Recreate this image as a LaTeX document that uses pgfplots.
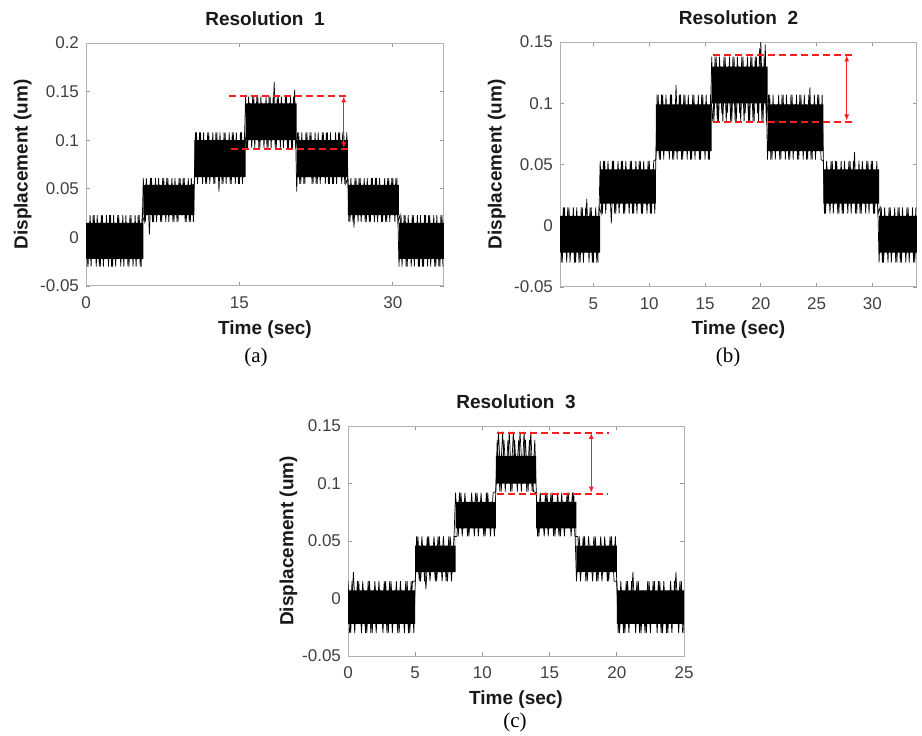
\documentclass[border=0pt]{standalone}
\usepackage{fontspec}
\setmainfont{Liberation Sans}
\newfontfamily\seriffont{Liberation Serif}
\usepackage{pgfplots}
\pgfplotsset{compat=1.18}
\usetikzlibrary{arrows.meta}
\definecolor{annred}{RGB}{250,30,30}
\pgfplotsset{
  matstyle/.style={
    scale only axis,
    anchor=south west,
    axis line style={draw=black!30, line width=0.5pt},
    tick style={draw=black!40, line width=0.4pt},
    tick align=inside,
    major tick length=2pt,
    /pgf/number format/assume math mode=true,
    ticklabel style={font=\fontsize{8.5}{9.5}\selectfont, text=black!75},
    xticklabel style={yshift=-2pt},
    label style={font=\bfseries\fontsize{9.5}{11}\selectfont, text=black!90},
    title style={font=\bfseries\fontsize{9.5}{11}\selectfont, text=black!90, at={(axis description cs:0.5,1)}, anchor=base, yshift=3pt},
    ylabel style={at={(axis description cs:-0.177,0.5)}, anchor=center},
    xlabel style={at={(axis description cs:0.5,0)}, anchor=base, yshift=-24pt},
    xlabel={Time (sec)}, ylabel={Displacement (um)},
  },
  sig/.style={black, line width=0.35pt},
  core/.style={fill=black, draw=none},
  annline/.style={draw=annred, line width=1pt, dash pattern=on 3.5pt off 2pt},
  annarr/.style={draw=annred, line width=0.5pt, >={Latex[length=3pt,width=2.5pt]}, <->},
}
\begin{document}
\begin{tikzpicture}
\path[use as bounding box] (0,0) rectangle (461pt,367.5pt);

% ---------------- (a) ----------------
\begin{axis}[matstyle, at={(43pt,224.5pt)}, width=179pt, height=121.5pt,
  xmin=0, xmax=35, ymin=-0.05, ymax=0.2,
  xtick={0,15,30},
  ytick={-0.05,0,0.05,0.1,0.15,0.2},
  yticklabels={-0.05,0,0.05,0.1,0.15,0.2},
  title={Resolution\ \ 1}]
\addplot[core] coordinates {(0,0.015)(5.6,0.015)(5.6,0.054)(10.6,0.054)(10.6,0.100)(15.6,0.100)(15.6,0.138)(20.6,0.138)(20.6,0.100)(25.6,0.100)(25.6,0.054)(30.6,0.054)(30.6,0.015)(35,0.015)
 (35,-0.022)(30.6,-0.022)(30.6,0.023)(25.6,0.023)(25.6,0.062)(20.6,0.062)(20.6,0.100)(15.6,0.100)(15.6,0.062)(10.6,0.062)(10.6,0.023)(5.6,0.023)(5.6,-0.022)(0,-0.022)} -- cycle;
\addplot[sig] coordinates {
(0,0.015)(0.2,-0.030)(0.4,0.023)(0.6,-0.022)(0.8,0.023)(1.0,-0.030)(1.2,0.015)(1.4,-0.030)(1.6,0.023)(1.8,-0.022)(2.0,0.023)(2.2,-0.030)(2.4,0.023)(2.6,-0.030)(2.8,0.015)(3.0,-0.022)(3.2,0.023)(3.4,-0.030)(3.6,0.023)(3.8,-0.022)(4.0,0.015)(4.2,-0.030)(4.4,0.023)(4.6,-0.030)(4.8,0.023)(5.0,-0.022)(5.2,0.023)(5.4,-0.030)
(5.6,0.061)(5.8,0.016)(6.0,0.054)(6.2,0.003)(6.4,0.061)(6.6,0.016)(6.8,0.061)(7.0,0.023)(7.2,0.054)(7.4,0.016)(7.6,0.061)(7.8,0.016)(8.0,0.061)(8.2,0.023)(8.4,0.061)(8.6,0.016)(8.8,0.054)(9.0,0.016)(9.2,0.061)(9.4,0.023)(9.6,0.061)(9.8,0.016)(10.0,0.061)(10.2,0.016)(10.4,0.054)
(10.6,0.055)(10.8,0.108)(11.0,0.062)(11.2,0.108)(11.4,0.055)(11.6,0.100)(11.8,0.055)(12.0,0.108)(12.2,0.062)(12.4,0.108)(12.6,0.055)(12.8,0.108)(13.0,0.047)(13.2,0.100)(13.4,0.055)(13.6,0.108)(13.8,0.062)(14.0,0.108)(14.2,0.055)(14.4,0.108)(14.6,0.055)(14.8,0.100)(15.0,0.055)(15.2,0.108)(15.4,0.062)
(15.6,0.145)(15.8,0.092)(16.0,0.138)(16.2,0.092)(16.4,0.145)(16.6,0.100)(16.8,0.145)(17.0,0.092)(17.2,0.138)(17.4,0.092)(17.6,0.145)(17.8,0.092)(18.0,0.145)(18.2,0.100)(18.4,0.160)(18.6,0.092)(18.8,0.145)(19.0,0.092)(19.2,0.138)(19.4,0.100)(19.6,0.145)(19.8,0.092)(20.0,0.145)(20.2,0.092)(20.4,0.152)
(20.6,0.047)(20.8,0.108)(21.0,0.055)(21.2,0.100)(21.4,0.055)(21.6,0.108)(21.8,0.062)(22.0,0.108)(22.2,0.055)(22.4,0.108)(22.6,0.055)(22.8,0.100)(23.0,0.062)(23.2,0.108)(23.4,0.055)(23.6,0.108)(23.8,0.055)(24.0,0.100)(24.2,0.055)(24.4,0.108)(24.6,0.062)(24.8,0.108)(25.0,0.055)(25.2,0.108)(25.4,0.055)
(25.6,0.061)(25.8,0.016)(26.0,0.054)(26.2,0.010)(26.4,0.061)(26.6,0.016)(26.8,0.061)(27.0,0.023)(27.2,0.061)(27.4,0.016)(27.6,0.054)(27.8,0.016)(28.0,0.061)(28.2,0.016)(28.4,0.061)(28.6,0.023)(28.8,0.054)(29.0,0.016)(29.2,0.061)(29.4,0.016)(29.6,0.061)(29.8,0.023)(30.0,0.061)(30.2,0.016)(30.4,0.061)
(30.6,-0.030)(30.8,0.023)(31.0,-0.022)(31.2,0.023)(31.4,-0.030)(31.6,0.015)(31.8,-0.030)(32.0,0.023)(32.2,-0.022)(32.4,0.023)(32.6,-0.030)(32.8,0.015)(33.0,-0.030)(33.2,0.023)(33.4,-0.030)(33.6,0.023)(33.8,-0.022)(34.0,0.023)(34.2,-0.030)(34.4,0.015)(34.6,-0.030)(34.8,0.023)(35.0,-0.022)};
\addplot[sig] coordinates {
(0.1,-0.030)(0.3,0.015)(0.5,-0.030)(0.7,0.023)(0.9,-0.022)(1.1,0.023)(1.3,-0.030)(1.5,0.023)(1.7,-0.030)(1.9,0.015)(2.1,-0.022)(2.3,0.023)(2.5,-0.030)(2.7,0.023)(2.9,-0.030)(3.1,0.023)(3.3,-0.022)(3.5,0.015)(3.7,-0.030)(3.9,0.023)(4.1,-0.030)(4.3,0.023)(4.5,-0.022)(4.7,0.015)(4.9,-0.030)(5.1,0.023)(5.3,-0.030)(5.5,0.023)
(5.7,0.016)(5.9,0.061)(6.1,0.023)(6.3,0.061)(6.5,0.016)(6.7,0.054)(6.9,0.016)(7.1,0.061)(7.3,0.016)(7.5,0.061)(7.7,0.023)(7.9,0.061)(8.1,0.016)(8.3,0.054)(8.5,0.016)(8.7,0.061)(8.9,0.016)(9.1,0.061)(9.3,0.023)(9.5,0.061)(9.7,0.016)(9.9,0.054)(10.1,0.016)(10.3,0.061)(10.5,0.016)
(10.7,0.108)(10.9,0.055)(11.1,0.108)(11.3,0.062)(11.5,0.108)(11.7,0.055)(11.9,0.108)(12.1,0.055)(12.3,0.100)(12.5,0.055)(12.7,0.108)(12.9,0.062)(13.1,0.108)(13.3,0.055)(13.5,0.108)(13.7,0.055)(13.9,0.100)(14.1,0.055)(14.3,0.108)(14.5,0.062)(14.7,0.108)(14.9,0.055)(15.1,0.108)(15.3,0.055)(15.5,0.108)
(15.7,0.092)(15.9,0.145)(16.1,0.100)(16.3,0.145)(16.5,0.092)(16.7,0.145)(16.9,0.092)(17.1,0.145)(17.3,0.100)(17.5,0.138)(17.7,0.092)(17.9,0.145)(18.1,0.092)(18.3,0.145)(18.5,0.092)(18.7,0.145)(18.9,0.100)(19.1,0.145)(19.3,0.092)(19.5,0.145)(19.7,0.092)(19.9,0.138)(20.1,0.092)(20.3,0.145)(20.5,0.092)
(20.7,0.108)(20.9,0.055)(21.1,0.108)(21.3,0.055)(21.5,0.108)(21.7,0.062)(21.9,0.108)(22.1,0.055)(22.3,0.100)(22.5,0.055)(22.7,0.108)(22.9,0.055)(23.1,0.108)(23.3,0.062)(23.5,0.108)(23.7,0.055)(23.9,0.108)(24.1,0.055)(24.3,0.100)(24.5,0.055)(24.7,0.108)(24.9,0.062)(25.1,0.108)(25.3,0.055)(25.5,0.108)
(25.7,0.016)(25.9,0.061)(26.1,0.016)(26.3,0.061)(26.5,0.023)(26.7,0.061)(26.9,0.016)(27.1,0.054)(27.3,0.016)(27.5,0.061)(27.7,0.016)(27.9,0.061)(28.1,0.023)(28.3,0.061)(28.5,0.016)(28.7,0.061)(28.9,0.016)(29.1,0.054)(29.3,0.016)(29.5,0.061)(29.7,0.016)(29.9,0.061)(30.1,0.023)(30.3,0.061)(30.5,0.016)
(30.7,0.023)(30.9,-0.030)(31.1,0.023)(31.3,-0.030)(31.5,0.023)(31.7,-0.022)(31.9,0.023)(32.1,-0.030)(32.3,0.015)(32.5,-0.030)(32.7,0.023)(32.9,-0.030)(33.1,0.023)(33.3,-0.022)(33.5,0.023)(33.7,-0.030)(33.9,0.015)(34.1,-0.030)(34.3,0.023)(34.5,-0.030)(34.7,0.023)(34.9,-0.030)};
\addplot[annline] coordinates {(14.0,0.145)(25.8,0.145)};
\addplot[annline] coordinates {(14.2,0.091)(25.8,0.091)};
\addplot[annarr] coordinates {(25.2,0.092)(25.2,0.145)};
\end{axis}

% ---------------- (b) ----------------
\begin{axis}[matstyle, at={(280pt,224pt)}, width=178.5pt, height=122.5pt,
  xmin=2, xmax=34, ymin=-0.05, ymax=0.15,
  xtick={5,10,15,20,25,30},
  ytick={-0.05,0,0.05,0.1,0.15},
  yticklabels={-0.05,0,0.05,0.1,0.15},
  title={Resolution\ \ 2}]
\addplot[core] coordinates {(2,0.008)(5.6,0.008)(5.6,0.046)(10.6,0.046)(10.6,0.099)(15.6,0.099)(15.6,0.130)(20.6,0.130)(20.6,0.099)(25.6,0.099)(25.6,0.046)(30.6,0.046)(30.6,0.008)(34,0.008)
 (34,-0.022)(30.6,-0.022)(30.6,0.018)(25.6,0.018)(25.6,0.061)(20.6,0.061)(20.6,0.100)(15.6,0.100)(15.6,0.061)(10.6,0.061)(10.6,0.018)(5.6,0.018)(5.6,-0.022)(2,-0.022)} -- cycle;
\addplot[sig] coordinates {
(2.0,0.008)(2.2,-0.030)(2.4,0.015)(2.6,-0.030)(2.8,0.015)(3.0,-0.022)(3.2,0.015)(3.4,-0.030)(3.6,0.008)(3.8,-0.030)(4.0,0.015)(4.2,-0.022)(4.4,0.022)(4.6,-0.030)(4.8,0.015)(5.0,-0.030)(5.2,0.015)(5.4,-0.030)
(5.6,0.053)(5.8,0.010)(6.0,0.053)(6.2,0.018)(6.4,0.046)(6.6,0.002)(6.8,0.053)(7.0,0.010)(7.2,0.053)(7.4,0.018)(7.6,0.053)(7.8,0.010)(8.0,0.046)(8.2,0.010)(8.4,0.053)(8.6,0.010)(8.8,0.053)(9.0,0.018)(9.2,0.053)(9.4,0.010)(9.6,0.046)(9.8,0.010)(10.0,0.053)(10.2,0.010)(10.4,0.053)
(10.6,0.054)(10.8,0.107)(11.0,0.054)(11.2,0.107)(11.4,0.061)(11.6,0.099)(11.8,0.054)(12.0,0.107)(12.2,0.054)(12.4,0.115)(12.6,0.061)(12.8,0.107)(13.0,0.054)(13.2,0.107)(13.4,0.054)(13.6,0.099)(13.8,0.054)(14.0,0.107)(14.2,0.061)(14.4,0.107)(14.6,0.054)(14.8,0.107)(15.0,0.054)(15.2,0.099)(15.4,0.054)
(15.6,0.138)(15.8,0.085)(16.0,0.138)(16.2,0.085)(16.4,0.130)(16.6,0.085)(16.8,0.138)(17.0,0.092)(17.2,0.138)(17.4,0.085)(17.6,0.138)(17.8,0.085)(18.0,0.130)(18.2,0.085)(18.4,0.138)(18.6,0.092)(18.8,0.138)(19.0,0.085)(19.2,0.138)(19.4,0.085)(19.6,0.138)(19.8,0.085)(20.0,0.150)(20.2,0.085)(20.4,0.148)
(20.6,0.054)(20.8,0.107)(21.0,0.054)(21.2,0.099)(21.4,0.061)(21.6,0.107)(21.8,0.054)(22.0,0.107)(22.2,0.054)(22.4,0.099)(22.6,0.054)(22.8,0.107)(23.0,0.061)(23.2,0.107)(23.4,0.054)(23.6,0.107)(23.8,0.054)(24.0,0.099)(24.2,0.054)(24.4,0.113)(24.6,0.054)(24.8,0.107)(25.0,0.061)(25.2,0.107)(25.4,0.054)
(25.6,0.053)(25.8,0.010)(26.0,0.046)(26.2,0.010)(26.4,0.053)(26.6,0.018)(26.8,0.053)(27.0,0.010)(27.2,0.053)(27.4,0.010)(27.6,0.046)(27.8,0.010)(28.0,0.053)(28.2,0.018)(28.4,0.060)(28.6,0.010)(28.8,0.053)(29.0,0.010)(29.2,0.046)(29.4,0.010)(29.6,0.053)(29.8,0.018)(30.0,0.053)(30.2,0.010)(30.4,0.053)
(30.6,-0.030)(30.8,0.015)(31.0,-0.030)(31.2,0.008)(31.4,-0.030)(31.6,0.015)(31.8,-0.022)(32.0,0.015)(32.2,-0.030)(32.4,0.015)(32.6,-0.030)(32.8,0.008)(33.0,-0.030)(33.2,0.015)(33.4,-0.022)(33.6,0.015)(33.8,-0.030)(34.0,0.008)};
\addplot[sig] coordinates {
(2.1,-0.030)(2.3,0.015)(2.5,-0.022)(2.7,0.015)(2.9,-0.030)(3.1,0.008)(3.3,-0.030)(3.5,0.015)(3.7,-0.030)(3.9,0.015)(4.1,-0.030)(4.3,0.015)(4.5,-0.022)(4.7,0.015)(4.9,-0.030)(5.1,0.008)(5.3,-0.030)(5.5,0.015)
(5.7,0.010)(5.9,0.053)(6.1,0.010)(6.3,0.053)(6.5,0.018)(6.7,0.053)(6.9,0.010)(7.1,0.046)(7.3,0.010)(7.5,0.053)(7.7,0.010)(7.9,0.053)(8.1,0.018)(8.3,0.053)(8.5,0.010)(8.7,0.046)(8.9,0.010)(9.1,0.053)(9.3,0.010)(9.5,0.053)(9.7,0.018)(9.9,0.053)(10.1,0.010)(10.3,0.046)(10.5,0.010)
(10.7,0.107)(10.9,0.054)(11.1,0.107)(11.3,0.054)(11.5,0.107)(11.7,0.061)(11.9,0.107)(12.1,0.054)(12.3,0.099)(12.5,0.054)(12.7,0.107)(12.9,0.054)(13.1,0.107)(13.3,0.061)(13.5,0.107)(13.7,0.054)(13.9,0.107)(14.1,0.054)(14.3,0.099)(14.5,0.054)(14.7,0.107)(14.9,0.061)(15.1,0.107)(15.3,0.054)(15.5,0.107)
(15.7,0.085)(15.9,0.138)(16.1,0.085)(16.3,0.138)(16.5,0.092)(16.7,0.138)(16.9,0.085)(17.1,0.130)(17.3,0.085)(17.5,0.138)(17.7,0.085)(17.9,0.138)(18.1,0.092)(18.3,0.138)(18.5,0.085)(18.7,0.130)(18.9,0.085)(19.1,0.138)(19.3,0.085)(19.5,0.138)(19.7,0.092)(19.9,0.145)(20.1,0.085)(20.3,0.138)(20.5,0.085)
(20.7,0.107)(20.9,0.054)(21.1,0.107)(21.3,0.054)(21.5,0.099)(21.7,0.054)(21.9,0.107)(22.1,0.061)(22.3,0.107)(22.5,0.054)(22.7,0.107)(22.9,0.054)(23.1,0.099)(23.3,0.054)(23.5,0.107)(23.7,0.061)(23.9,0.107)(24.1,0.054)(24.3,0.107)(24.5,0.054)(24.7,0.099)(24.9,0.054)(25.1,0.107)(25.3,0.061)(25.5,0.107)
(25.7,0.010)(25.9,0.053)(26.1,0.018)(26.3,0.053)(26.5,0.010)(26.7,0.053)(26.9,0.010)(27.1,0.046)(27.3,0.010)(27.5,0.053)(27.7,0.018)(27.9,0.053)(28.1,0.010)(28.3,0.053)(28.5,0.010)(28.7,0.046)(28.9,0.010)(29.1,0.053)(29.3,0.018)(29.5,0.053)(29.7,0.010)(29.9,0.053)(30.1,0.010)(30.3,0.046)(30.5,0.010)
(30.7,0.015)(30.9,-0.030)(31.1,0.015)(31.3,-0.022)(31.5,0.015)(31.7,-0.030)(31.9,0.008)(32.1,-0.030)(32.3,0.015)(32.5,-0.030)(32.7,0.015)(32.9,-0.022)(33.1,0.015)(33.3,-0.030)(33.5,0.008)(33.7,-0.030)(33.9,0.015)};
\addplot[annline] coordinates {(15.7,0.139)(28.4,0.139)};
\addplot[annline] coordinates {(15.7,0.085)(28.4,0.085)};
\addplot[annarr] coordinates {(27.7,0.086)(27.7,0.139)};
\end{axis}

% ---------------- (c) ----------------
\begin{axis}[matstyle, at={(174pt,39.5pt)}, width=168pt, height=115pt,
  xmin=0, xmax=25, ymin=-0.05, ymax=0.15,
  xtick={0,5,10,15,20,25},
  ytick={-0.05,0,0.05,0.1,0.15},
  yticklabels={-0.05,0,0.05,0.1,0.15},
  title={Resolution\ \ 3}]
\addplot[core] coordinates {(0,0.007)(5,0.007)(5,0.046)(8,0.046)(8,0.084)(11,0.084)(11,0.124)(14,0.124)(14,0.084)(17,0.084)(17,0.046)(20,0.046)(20,0.007)(25,0.007)
 (25,-0.022)(20,-0.022)(20,0.023)(17,0.023)(17,0.061)(14,0.061)(14,0.100)(11,0.100)(11,0.061)(8,0.061)(8,0.023)(5,0.023)(5,-0.022)(0,-0.022)} -- cycle;
\addplot[sig] coordinates {
(0.0,0.015)(0.2,-0.030)(0.4,0.023)(0.6,-0.022)(0.8,0.015)(1.0,-0.030)(1.2,0.007)(1.4,-0.030)(1.6,0.015)(1.8,-0.030)(2.0,0.015)(2.2,-0.022)(2.4,0.007)(2.6,-0.030)(2.8,0.015)(3.0,-0.030)(3.2,0.015)(3.4,-0.022)(3.6,0.015)(3.8,-0.030)(4.0,0.007)(4.2,-0.030)(4.4,0.015)(4.6,-0.030)(4.8,0.015)
(5.0,0.015)(5.2,0.054)(5.4,0.015)(5.6,0.046)(5.8,0.008)(6.0,0.054)(6.2,0.023)(6.4,0.054)(6.6,0.015)(6.8,0.054)(7.0,0.015)(7.2,0.046)(7.4,0.015)(7.6,0.054)(7.8,0.023)
(8.0,0.092)(8.2,0.054)(8.4,0.092)(8.6,0.061)(8.8,0.084)(9.0,0.054)(9.2,0.092)(9.4,0.054)(9.6,0.092)(9.8,0.061)(10.0,0.084)(10.2,0.054)(10.4,0.092)(10.6,0.054)(10.8,0.092)
(11.0,0.093)(11.2,0.145)(11.4,0.093)(11.6,0.138)(11.8,0.100)(12.0,0.145)(12.2,0.093)(12.4,0.138)(12.6,0.093)(12.8,0.145)(13.0,0.100)(13.2,0.138)(13.4,0.093)(13.6,0.145)(13.8,0.093)
(14.0,0.092)(14.2,0.054)(14.4,0.084)(14.6,0.054)(14.8,0.092)(15.0,0.061)(15.2,0.092)(15.4,0.054)(15.6,0.092)(15.8,0.054)(16.0,0.084)(16.2,0.061)(16.4,0.092)(16.6,0.054)(16.8,0.092)
(17.0,0.015)(17.2,0.054)(17.4,0.023)(17.6,0.054)(17.8,0.015)(18.0,0.046)(18.2,0.015)(18.4,0.054)(18.6,0.015)(18.8,0.054)(19.0,0.023)(19.2,0.046)(19.4,0.015)(19.6,0.054)(19.8,0.015)
(20.0,0.015)(20.2,-0.030)(20.4,0.007)(20.6,-0.030)(20.8,0.015)(21.0,-0.022)(21.2,0.023)(21.4,-0.030)(21.6,0.015)(21.8,-0.030)(22.0,0.007)(22.2,-0.030)(22.4,0.015)(22.6,-0.022)(22.8,0.015)(23.0,-0.030)(23.2,0.015)(23.4,-0.030)(23.6,0.007)(23.8,-0.030)(24.0,0.015)(24.2,-0.022)(24.4,0.023)(24.6,-0.030)(24.8,0.015)(25.0,-0.030)};
\addplot[sig] coordinates {
(0.1,-0.030)(0.3,0.015)(0.5,-0.030)(0.7,0.015)(0.9,-0.022)(1.1,0.015)(1.3,-0.030)(1.5,0.015)(1.7,-0.030)(1.9,0.007)(2.1,-0.030)(2.3,0.015)(2.5,-0.022)(2.7,0.015)(2.9,-0.030)(3.1,0.015)(3.3,-0.030)(3.5,0.007)(3.7,-0.030)(3.9,0.015)(4.1,-0.022)(4.3,0.015)(4.5,-0.030)(4.7,0.015)(4.9,-0.030)
(5.1,0.054)(5.3,0.015)(5.5,0.054)(5.7,0.015)(5.9,0.054)(6.1,0.015)(6.3,0.046)(6.5,0.015)(6.7,0.054)(6.9,0.023)(7.1,0.054)(7.3,0.015)(7.5,0.054)(7.7,0.015)(7.9,0.054)
(8.1,0.054)(8.3,0.092)(8.5,0.054)(8.7,0.092)(8.9,0.054)(9.1,0.084)(9.3,0.061)(9.5,0.092)(9.7,0.054)(9.9,0.092)(10.1,0.054)(10.3,0.092)(10.5,0.061)(10.7,0.084)(10.9,0.054)
(11.1,0.138)(11.3,0.093)(11.5,0.145)(11.7,0.093)(11.9,0.138)(12.1,0.093)(12.3,0.145)(12.5,0.100)(12.7,0.138)(12.9,0.093)(13.1,0.145)(13.3,0.093)(13.5,0.138)(13.7,0.093)(13.9,0.138)
(14.1,0.054)(14.3,0.092)(14.5,0.061)(14.7,0.092)(14.9,0.054)(15.1,0.092)(15.3,0.054)(15.5,0.084)(15.7,0.054)(15.9,0.092)(16.1,0.054)(16.3,0.092)(16.5,0.061)(16.7,0.092)(16.9,0.054)
(17.1,0.054)(17.3,0.015)(17.5,0.054)(17.7,0.015)(17.9,0.054)(18.1,0.023)(18.3,0.054)(18.5,0.015)(18.7,0.046)(18.9,0.015)(19.1,0.054)(19.3,0.015)(19.5,0.054)(19.7,0.023)(19.9,0.054)
(20.1,-0.030)(20.3,0.015)(20.5,-0.030)(20.7,0.015)(20.9,-0.030)(21.1,0.015)(21.3,-0.022)(21.5,0.015)(21.7,-0.030)(21.9,0.007)(22.1,-0.030)(22.3,0.015)(22.5,-0.030)(22.7,0.015)(22.9,-0.022)(23.1,0.015)(23.3,-0.030)(23.5,0.015)(23.7,-0.030)(23.9,0.007)(24.1,-0.030)(24.3,0.015)(24.5,-0.022)(24.7,0.015)(24.9,-0.030)};
\addplot[annline] coordinates {(11.1,0.144)(19.4,0.144)};
\addplot[annline] coordinates {(11.1,0.091)(19.3,0.091)};
\addplot[annarr] coordinates {(18.1,0.092)(18.1,0.144)};
\end{axis}

\node[font=\seriffont\fontsize{10.5}{12}\selectfont] at (128pt,189pt) {(a)};
\node[font=\seriffont\fontsize{10.5}{12}\selectfont] at (364pt,189pt) {(b)};
\node[font=\seriffont\fontsize{10.5}{12}\selectfont] at (257.5pt,6.5pt) {(c)};
\end{tikzpicture}
\end{document}
